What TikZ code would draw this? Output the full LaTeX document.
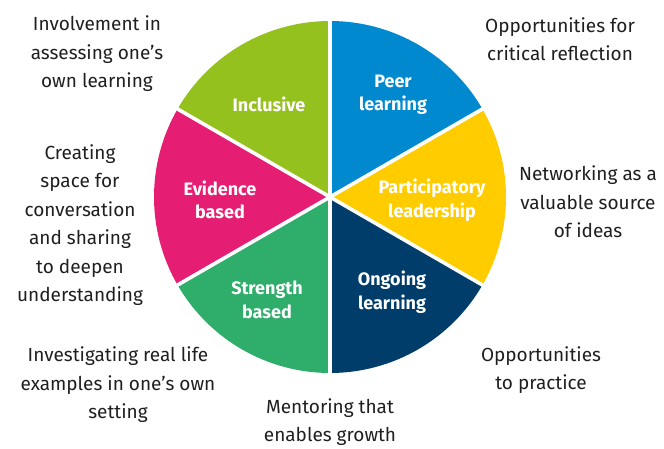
\documentclass[tikz,border=0pt]{standalone}
\usepackage{fontspec}
\setmainfont{Fira Sans}
\begin{document}
\begin{tikzpicture}[x=1pt,y=1pt,
  outer/.style={align=center,text=black!88,font=\fontsize{19}{28.5}\selectfont,inner sep=0pt},
  seclabel/.style={align=center,text=white,font=\bfseries\fontsize{18}{23.5}\selectfont,inner sep=0pt},
  divider/.style={white,line width=3.6pt}]
\definecolor{cLime}{RGB}{149,193,31}
\definecolor{cBlue}{RGB}{0,137,207}
\definecolor{cYellow}{RGB}{255,204,0}
\definecolor{cNavy}{RGB}{0,61,106}
\definecolor{cGreen}{RGB}{46,173,107}
\definecolor{cPink}{RGB}{230,30,115}
\useasboundingbox (0,0) rectangle (664,448);
\coordinate (c) at (330,251);
\def\R{176}
% six sectors of the wheel
\fill[cBlue]   (c) -- ++(30:\R)  arc (30:90:\R)   -- cycle;
\fill[cYellow] (c) -- ++(-30:\R) arc (-30:30:\R)  -- cycle;
\fill[cNavy]   (c) -- ++(-90:\R) arc (-90:-30:\R) -- cycle;
\fill[cGreen]  (c) -- ++(210:\R) arc (210:270:\R) -- cycle;
\fill[cPink]   (c) -- ++(150:\R) arc (150:210:\R) -- cycle;
\fill[cLime]   (c) -- ++(90:\R)  arc (90:150:\R)  -- cycle;
% white spokes between sectors
\foreach \a in {90,30,-30,-90,210,150}
  \draw[divider] (c) -- ++(\a:\R+2);
% labels inside the wheel
\node[seclabel] (peer) at (393,353) {Peer\\learning};
\node[seclabel] (part) at (432,248) {Participatory\\leadership};
\node[seclabel] (ongo) at (392,156) {Ongoing\\learning};
\node[seclabel] (stre) at (267,148) {Strength\\based};
\node[seclabel] (evid) at (220,248) {Evidence\\based};
\node[seclabel] (incl) at (269,344) {Inclusive};
% descriptions around the wheel
\node[outer] (t1) at (97,394) {Involvement in\\assessing one’s\\own learning};
\node[outer] (t2) at (80,223) {Creating\\space for\\conversation\\and sharing\\to deepen\\understanding};
\node[outer] (t3) at (560,409) {Opportunities for\\critical reflection};
\node[outer] (t4) at (588,246) {Networking as a\\valuable source\\of ideas};
\node[outer] (t5) at (541,78) {Opportunities\\to practice};
\node[outer] (t6) at (330,26) {Mentoring that\\enables growth};
\node[outer] (t7) at (118,63) {Investigating real life\\examples in one’s own\\setting};
\end{tikzpicture}
\end{document}
